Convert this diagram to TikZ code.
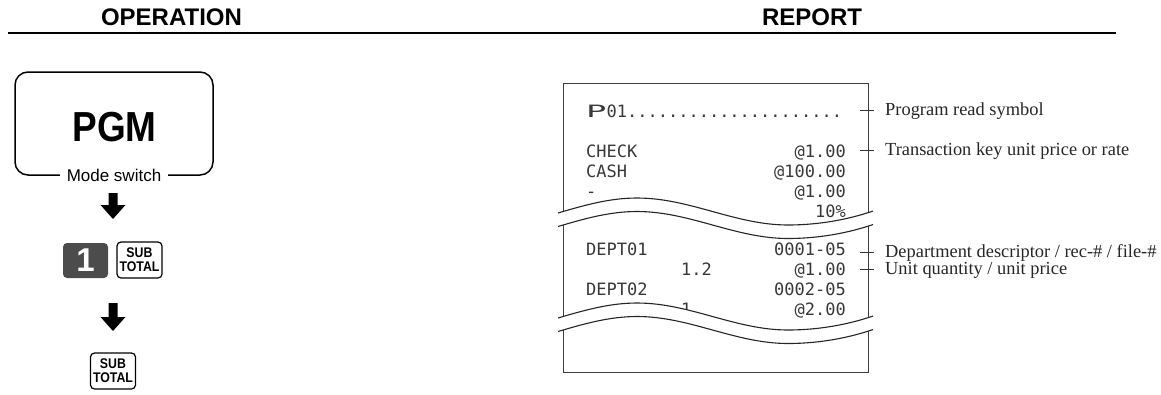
\documentclass[tikz,border=0pt]{standalone}
\usepackage{fontspec}
\usepackage{graphicx}
\setmainfont{Liberation Serif}
\newfontfamily\hfont{Liberation Sans}
\newfontfamily\nfont{Liberation Sans}[FakeStretch=0.88]
\newfontfamily\mfont{DejaVu Sans Mono}
\newcommand\tearfwd[1]{(558,213+#1) .. controls (585,205+#1) and (610,198+#1) .. (637,198+#1) .. controls (690,198+#1) and (735,225+#1) .. (788,225+#1) .. controls (820,225+#1) and (850,219+#1) .. (873,211+#1)}
\newcommand\tearrev[1]{(873,211+#1) .. controls (850,219+#1) and (820,225+#1) .. (788,225+#1) .. controls (735,225+#1) and (690,198+#1) .. (637,198+#1) .. controls (610,198+#1) and (585,205+#1) .. (558,213+#1)}
\begin{document}
\begin{tikzpicture}[x=1pt,y=-1pt,
  hdr/.style={font=\hfont\bfseries\fontsize{24}{24}\selectfont, anchor=base, inner sep=0},
  subkey/.style={draw, line width=1.2, rounded corners=4, minimum width=45, minimum height=36, inner sep=0, align=center, font=\nfont\bfseries\fontsize{14}{14}\selectfont},
  rl/.style={font=\mfont\fontsize{17}{17}\selectfont, anchor=base west, inner sep=0, text=black!78},
  rr/.style={font=\mfont\fontsize{17}{17}\selectfont, anchor=base east, inner sep=0, text=black!78},
  lab/.style={anchor=base west, inner sep=0, font=\fontsize{18.4}{20}\selectfont, text=black!85},
  tick/.style={line width=0.9, black!80},
  tear/.style={line width=1.1, black!85},
  blockarrow/.style={fill=black}]
\useasboundingbox (0,0) rectangle (1161,394);
% headers
\node[hdr] (hop) at (171.5,25) {OPERATION};
\node[hdr] (hrep) at (812,25) {REPORT};
\coordinate (hl) at (8,33);
\coordinate (hr) at (1116,33);
\draw[line width=2] (hl) -- (hr);
% mode switch box
\draw[line width=1.5, rounded corners=13] (15,72) rectangle (213,175);
\node[font=\nfont\bfseries\fontsize{42}{42}\selectfont, anchor=base, inner sep=0] (pgm) at (114.5,141) {PGM};
\node[fill=white, inner xsep=7, inner ysep=1, font=\hfont\fontsize{17}{18}\selectfont] (ms) at (114,175) {Mode switch};
% arrows
\fill[blockarrow] (108.5,193) -- (117.5,193) -- (117.5,205) -- (125.5,205) -- (113,219) -- (100.5,205) -- (108.5,205) -- cycle;
\fill[blockarrow] (108.5,303) -- (117.5,303) -- (117.5,317) -- (125.5,317) -- (113,331) -- (100.5,317) -- (108.5,317) -- cycle;
% keys
\node[fill=black!70, rounded corners=4, minimum width=45, minimum height=35, inner sep=0, text=white, font=\hfont\bfseries\fontsize{33}{33}\selectfont] (k1) at (85.5,260.5) {1};
\node[subkey] (st1) at (139.5,260) {SUB\\TOTAL};
\node[subkey] (st2) at (113,371) {SUB\\TOTAL};
% receipt
\draw[line width=1, black!75] (563,83) rectangle (868,372);
\node[rl] (p01) at (586,117) {\scalebox{2}[1]{P}01.....................};
\node[rl] (t1) at (586,157) {CHECK};
\node[rr] (v1) at (846,157) {@1.00};
\node[rl] (t2) at (586,177) {CASH};
\node[rr] (v2) at (846,177) {@100.00};
\node[rl] (t3) at (586,197) {-};
\node[rr] (v3) at (846,197) {@1.00};
\node[rl] (t4) at (586,217) {\%};
\node[rr] (v4) at (846,217) {10\%};
\node[rl] (d1) at (586,255) {DEPT01};
\node[rr] (c1) at (846,255) {0001-05};
\node[rl] (q1) at (681,275) {1.2};
\node[rr] (u1) at (846,275) {@1.00};
\node[rl] (d2) at (586,295) {DEPT02};
\node[rr] (c2) at (846,295) {0002-05};
\node[rl] (q2) at (681,315) {1};
\node[rr] (u2) at (846,315) {@2.00};
% tears
\fill[white] \tearfwd{0} -- \tearrev{13.5} -- cycle;
\fill[white] \tearfwd{105} -- \tearrev{118.5} -- cycle;
\draw[tear] \tearfwd{0};
\draw[tear] \tearfwd{13.5};
\draw[tear] \tearfwd{105};
\draw[tear] \tearfwd{118.5};
% callouts
\node[lab] (l1) at (885,115) {Program read symbol};
\node[lab] (l2) at (885,155) {Transaction key unit price or rate};
\node[lab] (l3) at (885,257) {Department descriptor / rec-\# / file-\#};
\node[lab] (l4) at (885,274) {Unit quantity / unit price};
\draw[tick] ([xshift=-25]l1.base west) ++(0,-5) -- ++(14,0);
\draw[tick] ([xshift=-25]l2.base west) ++(0,-5) -- ++(14,0);
\draw[tick] ([xshift=-25]l3.base west) ++(0,-5) -- ++(14,0);
\draw[tick] ([xshift=-25]l4.base west) ++(0,-5) -- ++(14,0);
\end{tikzpicture}
\end{document}
